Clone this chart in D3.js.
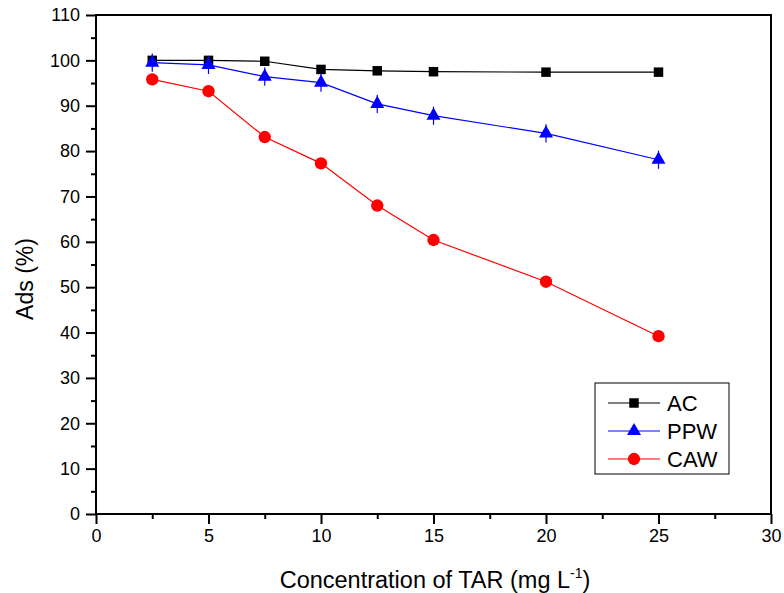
<!DOCTYPE html>
<html>
<head>
<meta charset="utf-8">
<script src="https://cdn.jsdelivr.net/npm/d3@7"></script>
<style>
  body { margin: 0; background: #fff; }
  text { font-family: "Liberation Sans", Arial, sans-serif; }
</style>
</head>
<body>
<div id="chart"></div>
<script>
// Data
var conc = [2.5, 5, 7.5, 10, 12.5, 15, 20, 25];
var acValues = [100, 100, 99.8, 98.0, 97.7, 97.5, 97.4, 97.4];
var ppwValues = [99.5, 99.0, 96.4, 95.1, 90.4, 87.8, 83.9, 78.1];
var ppwErr = [2.0, 2.0, 2.0, 2.0, 2.0, 2.0, 2.0, 2.0];
var cawValues = [95.8, 93.2, 83.1, 77.3, 68.0, 60.4, 51.2, 39.2];
var seriesNames = ["AC", "PPW", "CAW"];
var xTicks = [0, 5, 10, 15, 20, 25, 30];
var yTicks = [0, 10, 20, 30, 40, 50, 60, 70, 80, 90, 100, 110];

var svgWidth = 784;
var svgHeight = 593;
var margin = { top: 15, right: 13, bottom: 79, left: 96 };
var width = svgWidth - margin.left - margin.right;
var height = svgHeight - margin.top - margin.bottom;

var svg = d3.select("#chart")
  .append("svg")
  .attr("width", svgWidth)
  .attr("height", svgHeight);

var chartGroup = svg.append("g")
  .attr("transform", `translate(${margin.left}, ${margin.top})`);

var x = d3.scaleLinear().domain([0, 30]).range([0, width]);
var y = d3.scaleLinear().domain([0, 110]).range([height, 0]);

// minor ticks first, then major ones with labels
chartGroup.append("g")
  .attr("transform", `translate(0, ${height})`)
  .call(d3.axisBottom(x).tickValues(d3.range(2.5, 30, 5)).tickSize(5).tickFormat(""))
  .call(g => g.select(".domain").remove());

chartGroup.append("g")
  .attr("transform", `translate(0, ${height})`)
  .style("font-size", "18px")
  .call(d3.axisBottom(x).tickValues(xTicks).tickSize(10).tickPadding(5))
  .call(g => g.select(".domain").remove());

chartGroup.append("g")
  .call(d3.axisLeft(y).tickValues(d3.range(5, 110, 10)).tickSize(5).tickFormat(""))
  .call(g => g.select(".domain").remove());

chartGroup.append("g")
  .style("font-size", "18px")
  .call(d3.axisLeft(y).tickValues(yTicks).tickSize(10).tickPadding(6))
  .call(g => g.select(".domain").remove());

chartGroup.selectAll(".tick line").attr("stroke-width", 2);
chartGroup.selectAll(".tick text").attr("fill", "#000");

// frame
chartGroup.append("rect")
  .attr("width", width)
  .attr("height", height)
  .attr("fill", "none")
  .attr("stroke", "#000")
  .attr("stroke-width", 2);

var series = [
  { name: seriesNames[0], values: acValues, color: "#000", symbol: d3.symbolSquare, size: 90 },
  { name: seriesNames[1], values: ppwValues, err: ppwErr, color: "#0000ff", symbol: d3.symbolTriangle, size: 85 },
  { name: seriesNames[2], values: cawValues, color: "#ff0000", symbol: d3.symbolCircle, size: 120 }
];

var line = d3.line()
  .x(d => x(d[0]))
  .y(d => y(d[1]));

series.forEach(function(s) {
  var pts = conc.map((c, i) => [c, s.values[i], s.err ? s.err[i] : 0]);
  chartGroup.append("path")
    .datum(pts)
    .attr("fill", "none")
    .attr("stroke", s.color)
    .attr("stroke-width", 1.2)
    .attr("d", line);

  if (s.err) {
    chartGroup.selectAll(null)
      .data(pts)
      .enter()
      .append("line")
      .attr("x1", d => x(d[0]))
      .attr("x2", d => x(d[0]))
      .attr("y1", d => y(d[1] - d[2]))
      .attr("y2", d => y(d[1] + d[2]))
      .attr("stroke", s.color)
      .attr("stroke-width", 1.2);
  }

  chartGroup.selectAll(null)
    .data(pts)
    .enter()
    .append("path")
    .attr("transform", d => `translate(${x(d[0])}, ${y(d[1])})`)
    .attr("d", d3.symbol().type(s.symbol).size(s.size))
    .attr("fill", s.color);
});

// legend
var legend = svg.append("g").attr("transform", "translate(595, 383)");
legend.append("rect")
  .attr("width", 134)
  .attr("height", 91)
  .attr("fill", "#fff")
  .attr("stroke", "#000")
  .attr("stroke-width", 1);

series.forEach(function(s, i) {
  var row = legend.append("g").attr("transform", `translate(0, ${20 + i * 28})`);
  row.append("line")
    .attr("x1", 13).attr("x2", 65)
    .attr("stroke", s.color)
    .attr("stroke-width", 1.2);
  row.append("path")
    .attr("transform", "translate(39, 0)")
    .attr("d", d3.symbol().type(s.symbol).size(s.size))
    .attr("fill", s.color);
  row.append("text")
    .attr("x", 72)
    .attr("dy", "0.36em")
    .style("font-size", "22px")
    .text(s.name);
});

// axis labels
svg.append("text")
  .attr("x", 435)
  .attr("y", 588)
  .attr("text-anchor", "middle")
  .style("font-size", "23.5px")
  .html('Concentration of TAR (mg L<tspan dy="-10" font-size="14px">-1</tspan><tspan dy="10">)</tspan>');

svg.append("text")
  .attr("transform", "translate(33, 279) rotate(-90)")
  .attr("text-anchor", "middle")
  .style("font-size", "23px")
  .text("Ads (%)");
</script>
</body>
</html>
